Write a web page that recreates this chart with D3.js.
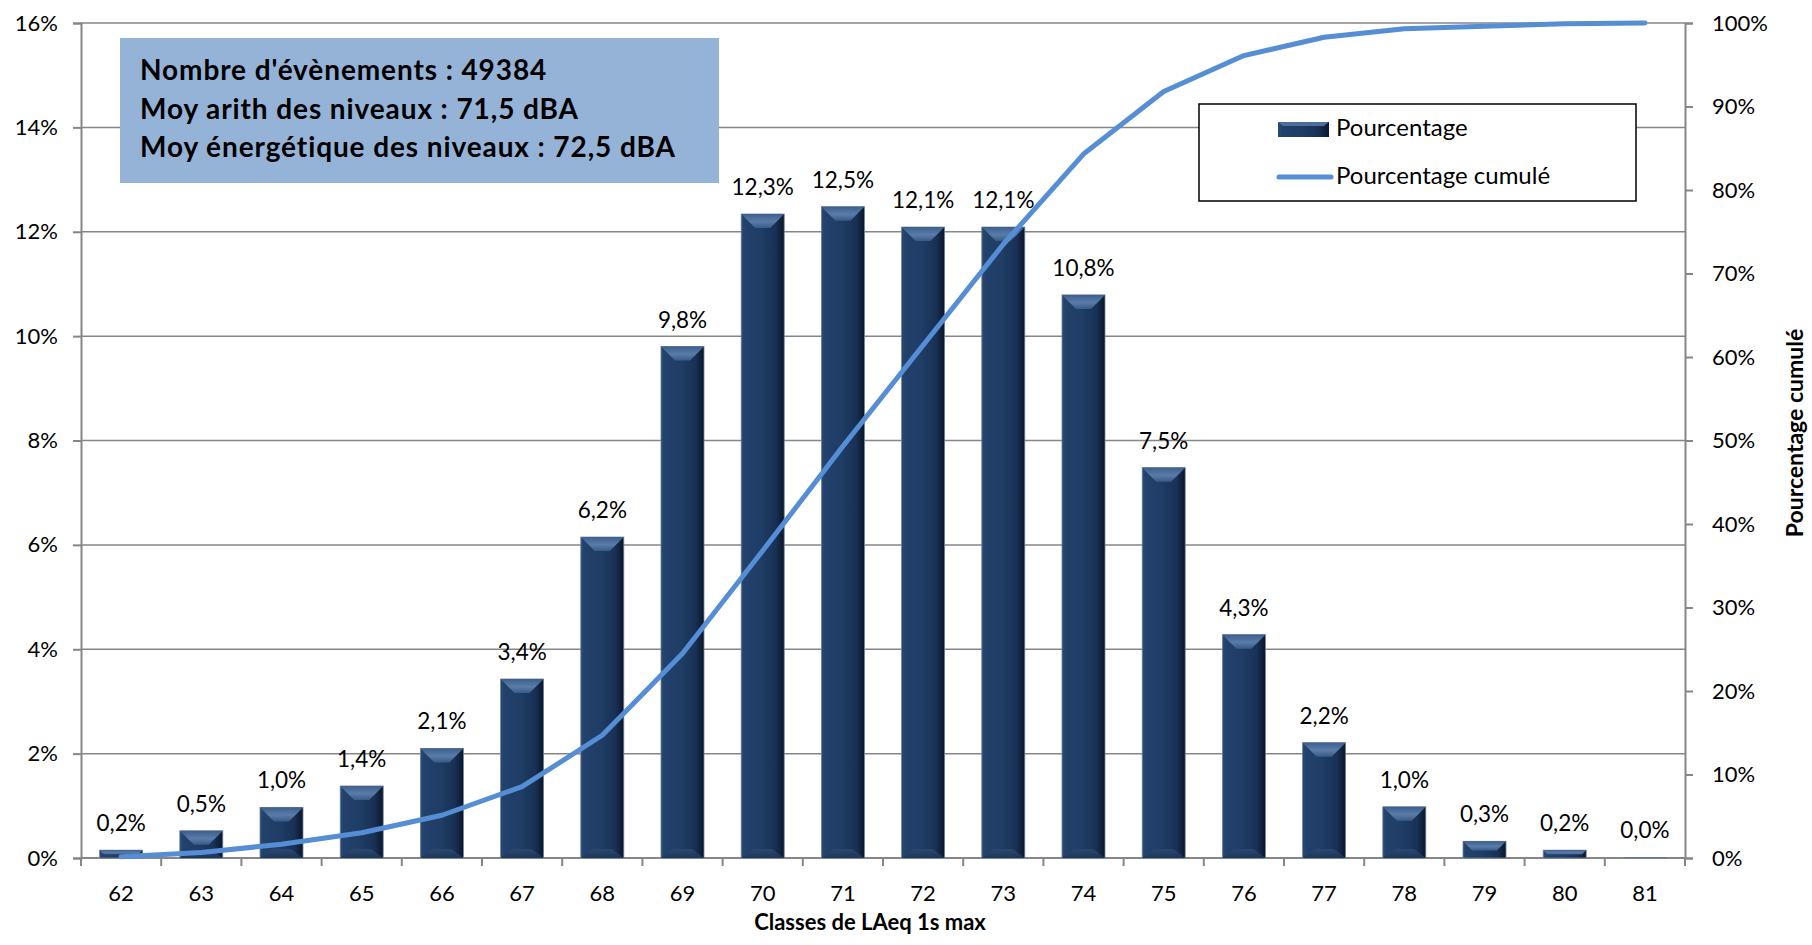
<!DOCTYPE html>
<html>
<head>
<meta charset="utf-8">
<script src="https://cdn.jsdelivr.net/npm/d3@7"></script>
<style>
  html, body { margin: 0; padding: 0; background: #fff; }
  svg { display: block; font-family: Lato, "Open Sans", sans-serif; }
</style>
</head>
<body>
<svg id="chart" width="1812" height="945"></svg>
<script>
// ---- data ----
const categories = ["62","63","64","65","66","67","68","69","70","71","72","73","74","75","76","77","78","79","80","81"];
const pourcentage = [0.15,0.52,0.97,1.38,2.10,3.43,6.15,9.80,12.34,12.48,12.09,12.09,10.79,7.48,4.28,2.21,0.98,0.32,0.15,0.01];
const pourcentageLabels = ["0,2%","0,5%","1,0%","1,4%","2,1%","3,4%","6,2%","9,8%","12,3%","12,5%","12,1%","12,1%","10,8%","7,5%","4,3%","2,2%","1,0%","0,3%","0,2%","0,0%"];
const pourcentageCumule = [0.15,0.67,1.64,3.02,5.12,8.55,14.7,24.5,36.8,49.3,61.4,73.5,84.3,91.8,96.1,98.3,99.3,99.6,99.9,100];
const leftTicks = [0,2,4,6,8,10,12,14,16];
const rightTicks = [0,10,20,30,40,50,60,70,80,90,100];
const infoLines = ["Nombre d'évènements : 49384","Moy arith des niveaux : 71,5 dBA","Moy énergétique des niveaux : 72,5 dBA"];
const seriesNames = ["Pourcentage","Pourcentage cumulé"];
const xTitle = "Classes de LAeq 1s max";
const yRightTitle = "Pourcentage cumulé";

// ---- layout ----
const L = 81, R = 1685, T = 23, B = 858;
const svg = d3.select("#chart");
const axisColor = "#868686";

const x = d3.scaleBand().domain(categories).range([L, R]).paddingInner(0.464).paddingOuter(0.232);
const yL = d3.scaleLinear().domain([0, 16]).range([B, T]);
const yR = d3.scaleLinear().domain([0, 100]).range([B, T]);
const step = x.step(), bw = x.bandwidth();

// defs
const defs = svg.append("defs");
const gBody = defs.append("linearGradient").attr("id","body").attr("x1","0").attr("x2","1").attr("y1","0").attr("y2","0");
[["0%","#2b4a74"],["8%","#22416b"],["45%","#1f3d66"],["80%","#183155"],["100%","#0b1629"]].forEach(s=>gBody.append("stop").attr("offset",s[0]).attr("stop-color",s[1]));
const gTop = defs.append("linearGradient").attr("id","topb").attr("x1","0").attr("x2","0").attr("y1","0").attr("y2","1");
[["0%","#3c5f8e"],["55%","#5a7ca8"],["100%","#3a5a86"]].forEach(s=>gTop.append("stop").attr("offset",s[0]).attr("stop-color",s[1]));
const gBot = defs.append("linearGradient").attr("id","botb").attr("x1","0").attr("x2","0").attr("y1","0").attr("y2","1");
[["0%","#2c4a72"],["100%","#1c3558"]].forEach(s=>gBot.append("stop").attr("offset",s[0]).attr("stop-color",s[1]));

// gridlines
svg.append("g").selectAll("line").data(leftTicks).join("line")
  .attr("x1", L).attr("x2", R).attr("y1", d=>yL(d)).attr("y2", d=>yL(d))
  .attr("stroke", axisColor).attr("stroke-width", 1.5);

// left axis
const axL = svg.append("g").attr("transform",`translate(${L},0)`)
  .call(d3.axisLeft(yL).tickValues(leftTicks).tickFormat(d=>d+"%").tickSize(8).tickPadding(15));
// right axis
const axR = svg.append("g").attr("transform",`translate(${R},0)`)
  .call(d3.axisRight(yR).tickValues(rightTicks).tickFormat(d=>d+"%").tickSize(8).tickPadding(19));
[axL, axR].forEach(a=>{
  a.select(".domain").attr("stroke", axisColor).attr("stroke-width", 2);
  a.selectAll(".tick line").attr("stroke", axisColor).attr("stroke-width", 2);
  a.selectAll(".tick text").attr("font-size", 22).attr("fill","#000").attr("font-family","Lato");
});

// bottom axis (ticks at band boundaries)
const boundaries = categories.map(c => x(c) - (step - bw)/2).concat([R]);
svg.append("g").selectAll("line").data(boundaries).join("line")
  .attr("x1", d=>d).attr("x2", d=>d).attr("y1", B).attr("y2", B+8)
  .attr("stroke", axisColor).attr("stroke-width", 2);
svg.append("line").attr("x1", L).attr("x2", R).attr("y1", B).attr("y2", B)
  .attr("stroke", axisColor).attr("stroke-width", 2);
svg.append("g").selectAll("text").data(categories).join("text")
  .attr("x", d=>x(d)+bw/2).attr("y", 901).attr("text-anchor","middle")
  .attr("font-size", 22).text(d=>d);

// bars
const barData = categories.map((c,i)=>({c, v:pourcentage[i], lab:pourcentageLabels[i]}));
const bars = svg.append("g").selectAll("g").data(barData).join("g");
bars.each(function(d){
  const g = d3.select(this);
  const x0 = x(d.c), y0 = yL(d.v), h = B - y0, w = bw;
  g.append("rect").attr("x", x0).attr("y", y0).attr("width", w).attr("height", h)
    .attr("fill","url(#body)").attr("stroke","#6f8197").attr("stroke-width",0.8);
  const th = Math.min(14, h*0.55), inset = Math.min(14, th);
  g.append("path").attr("d", `M${x0},${y0} L${x0+w},${y0} L${x0+w-inset},${y0+th} L${x0+inset},${y0+th} Z`)
    .attr("fill","url(#topb)");
  const bh = Math.min(9, h*0.3), bi = Math.min(12, bh*1.4);
  if (h > 20) {
    g.append("path").attr("d", `M${x0},${B} L${x0+w},${B} L${x0+w-bi},${B-bh} L${x0+bi},${B-bh} Z`)
      .attr("fill","url(#botb)").attr("opacity",0.9);
  }
});

// data labels
svg.append("g").selectAll("text").data(barData).join("text")
  .attr("x", d=>x(d.c)+bw/2).attr("y", d=>yL(d.v)-19).attr("text-anchor","middle")
  .attr("font-size", 22.5).text(d=>d.lab);

// cumulative line
const line = d3.line().x((d,i)=>x(categories[i])+bw/2).y(d=>yR(d));
svg.append("path").datum(pourcentageCumule).attr("d", line)
  .attr("fill","none").attr("stroke","#558ED5").attr("stroke-width",5)
  .attr("stroke-linejoin","round").attr("stroke-linecap","round");

// info box
svg.append("rect").attr("x",120).attr("y",38).attr("width",599).attr("height",145).attr("fill","#95B3D7");
svg.append("g").selectAll("text").data(infoLines).join("text")
  .attr("x",140).attr("y",(d,i)=>80+i*38.5).attr("font-size",28).attr("letter-spacing",0.9)
  .attr("font-weight","bold").text(d=>d);

// legend
svg.append("rect").attr("x",1199).attr("y",104).attr("width",437).attr("height",97)
  .attr("fill","#fff").attr("stroke","#000").attr("stroke-width",1.5);
svg.append("rect").attr("x",1278).attr("y",122).attr("width",51).attr("height",15).attr("fill","url(#body)");
svg.append("path").attr("d","M1278,122 L1329,122 L1324,126 L1283,126 Z").attr("fill","#4d6e99");
svg.append("line").attr("x1",1279).attr("x2",1331).attr("y1",177).attr("y2",177)
  .attr("stroke","#558ED5").attr("stroke-width",5).attr("stroke-linecap","round");
svg.append("text").attr("x",1336).attr("y",136).attr("font-size",24).text(seriesNames[0]);
svg.append("text").attr("x",1336).attr("y",184).attr("font-size",24).text(seriesNames[1]);

// axis titles
svg.append("text").attr("x",870).attr("y",930).attr("text-anchor","middle")
  .attr("font-size",22).attr("font-weight","bold").text(xTitle);
svg.append("text").attr("transform","translate(1803,433) rotate(-90)").attr("text-anchor","middle")
  .attr("font-size",23).attr("font-weight","bold").text(yRightTitle);
</script>
</body>
</html>
